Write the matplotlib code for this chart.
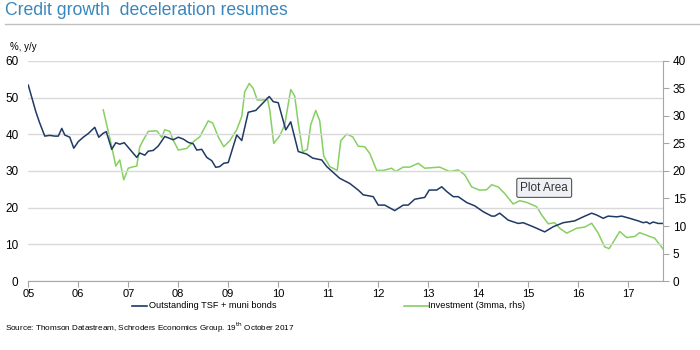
"""Credit growth deceleration chart (TSF + muni bonds vs investment)."""

import matplotlib

matplotlib.use("Agg")
import matplotlib.pyplot as plt  # noqa: E402

plt.rcParams["font.family"] = ["Liberation Sans Narrow", "Liberation Sans", "DejaVu Sans"]

# Outstanding TSF + muni bonds, % y/y (left axis), decimal year
tsf_t = [2005.0, 2005.15, 2005.22, 2005.33, 2005.43, 2005.53, 2005.6, 2005.67, 2005.73,
         2005.83, 2005.91, 2006.0, 2006.1, 2006.2, 2006.33, 2006.41, 2006.5, 2006.56,
         2006.67, 2006.75, 2006.83, 2006.92, 2007.17, 2007.23, 2007.33, 2007.4, 2007.5,
         2007.6, 2007.73, 2007.9, 2008.0, 2008.1, 2008.2, 2008.3, 2008.37, 2008.47,
         2008.57, 2008.67, 2008.75, 2008.83, 2008.91, 2009.0, 2009.17, 2009.27, 2009.4,
         2009.55, 2009.82, 2009.9, 2010.0, 2010.15, 2010.25, 2010.4, 2010.57, 2010.69,
         2010.87, 2010.97, 2011.23, 2011.43, 2011.6, 2011.7, 2011.9, 2012.0, 2012.13,
         2012.33, 2012.5, 2012.6, 2012.73, 2012.93, 2013.02, 2013.17, 2013.27, 2013.37,
         2013.5, 2013.6, 2013.77, 2013.93, 2014.1, 2014.27, 2014.33, 2014.43, 2014.6,
         2014.8, 2014.9, 2015.1, 2015.33, 2015.5, 2015.7, 2015.93, 2016.1, 2016.27,
         2016.37, 2016.5, 2016.6, 2016.77, 2016.87, 2017.03, 2017.2, 2017.3, 2017.37,
         2017.43, 2017.5, 2017.6, 2017.68]
tsf_v = [53.4, 46.2, 43.4, 39.5, 39.7, 39.5, 39.5, 41.6, 39.8,
         39.2, 36.2, 38.0, 39.2, 40.2, 41.9, 39.2, 40.3, 40.7,
         35.9, 37.7, 37.3, 37.7, 33.7, 34.9, 34.3, 35.4, 35.6,
         36.8, 39.4, 38.5, 39.2, 38.7, 37.8, 37.4, 35.7, 35.9,
         33.7, 32.8, 31.0, 31.2, 32.1, 32.3, 39.8, 38.3, 46.0,
         46.5, 50.3, 48.9, 48.6, 41.2, 43.4, 35.3, 34.6, 33.5,
         33.0, 31.2, 28.0, 26.6, 24.8, 23.5, 23.0, 20.7, 20.7,
         19.2, 20.7, 20.7, 22.3, 22.8, 24.8, 24.8, 25.7, 24.4,
         23.0, 23.0, 21.4, 20.5, 18.9, 17.7, 17.7, 18.5, 16.6,
         15.7, 15.9, 14.8, 13.4, 14.8, 15.9, 16.4, 17.5, 18.5,
         18.0, 17.1, 17.7, 17.5, 17.7, 17.1, 16.4, 15.9, 16.1,
         15.6, 16.1, 15.7, 15.7]

# Investment, 3mma % y/y (right axis)
inv_t = [2006.5, 2006.67, 2006.75, 2006.83, 2006.91, 2007.0, 2007.07, 2007.17, 2007.23,
         2007.3, 2007.4, 2007.57, 2007.67, 2007.73, 2007.83, 2007.9, 2008.0, 2008.17,
         2008.3, 2008.43, 2008.6, 2008.69, 2008.8, 2008.91, 2009.03, 2009.17, 2009.27,
         2009.33, 2009.42, 2009.5, 2009.58, 2009.7, 2009.78, 2009.83, 2009.91, 2010.03,
         2010.13, 2010.25, 2010.33, 2010.4, 2010.49, 2010.58, 2010.65, 2010.75, 2010.83,
         2010.91, 2011.03, 2011.18, 2011.25, 2011.37, 2011.49, 2011.6, 2011.73, 2011.83,
         2011.97, 2012.1, 2012.27, 2012.35, 2012.5, 2012.63, 2012.8, 2012.93, 2013.23,
         2013.43, 2013.6, 2013.73, 2013.87, 2014.03, 2014.17, 2014.27, 2014.4, 2014.53,
         2014.7, 2014.83, 2014.97, 2015.17, 2015.27, 2015.4, 2015.53, 2015.63, 2015.77,
         2015.97, 2016.13, 2016.27, 2016.4, 2016.53, 2016.62, 2016.73, 2016.83, 2016.97,
         2017.13, 2017.23, 2017.43, 2017.53, 2017.7]
inv_v = [31.1, 24.4, 20.9, 22.0, 18.4, 20.5, 20.7, 20.9, 24.4,
         25.6, 27.2, 27.3, 26.1, 27.5, 27.2, 25.6, 23.8, 24.1,
         25.3, 26.2, 29.1, 28.7, 26.2, 24.4, 25.5, 27.5, 29.9,
         34.4, 35.9, 35.0, 32.9, 32.9, 33.3, 31.1, 25.0, 26.4,
         28.4, 34.8, 33.6, 28.7, 23.5, 23.9, 28.4, 31.0, 29.1,
         22.7, 20.8, 20.1, 25.5, 26.7, 26.2, 24.5, 24.4, 23.2,
         20.1, 20.1, 20.5, 19.9, 20.7, 20.7, 21.4, 20.5, 20.7,
         19.9, 20.2, 19.3, 17.1, 16.5, 16.6, 17.5, 17.1, 15.9,
         14.0, 14.6, 14.3, 13.5, 12.0, 10.4, 10.6, 9.6, 8.7,
         9.6, 9.8, 10.5, 8.7, 6.2, 5.9, 7.5, 9.0, 7.9,
         8.1, 8.8, 8.1, 7.8, 5.8]

years = list(range(2005, 2018))
year_labels = [f"{y % 100:02d}" for y in years]
left_ticks = [0, 10, 20, 30, 40, 50, 60]
right_ticks = [0, 5, 10, 15, 20, 25, 30, 35, 40]

BLUE = "#1f3a64"
GREEN = "#86d062"
GREY = "#a6a6a6"

fig = plt.figure(figsize=(7, 3.5), dpi=100)
ax = fig.add_axes([0.0404, 0.197, 0.907, 0.629])
ax2 = ax.twinx()

ax.plot(tsf_t, tsf_v, color=BLUE, lw=1.1, zorder=3)
ax2.plot(inv_t, inv_v, color=GREEN, lw=1.1)

ax.set_xlim(2005, 2017.7)
ax.set_ylim(0, 60)
ax2.set_ylim(0, 40)
ax.set_xticks(years)
ax.set_xticklabels(year_labels)
ax.set_yticks(left_ticks)
ax2.set_yticks(right_ticks)

ax.grid(axis="y", color="#d9d9d9", lw=1)
ax.set_axisbelow(True)
ax.set_zorder(ax2.get_zorder() + 1)
ax.patch.set_visible(False)

for a in (ax, ax2):
    for s in a.spines.values():
        s.set_visible(False)
ax.spines["bottom"].set_visible(True)
ax.spines["bottom"].set_color(GREY)
ax2.spines["right"].set_visible(True)
ax2.spines["right"].set_color(GREY)

ax.tick_params(axis="x", length=4, color=GREY, labelsize=8, pad=1.5)
ax.tick_params(axis="y", length=0, labelsize=8.5, pad=7)
ax2.tick_params(axis="y", length=4, color=GREY, labelsize=8.5, pad=3)

fig.text(0.007, 0.971, "Credit growth  deceleration resumes", color="#3a87bd",
         fontsize=12.7, va="center", ha="left")
fig.add_artist(plt.Line2D([0.007, 1.0], [0.931, 0.931], color="#bfbfbf", lw=1,
                          transform=fig.transFigure))
fig.text(0.014, 0.866, "%, y/y", fontsize=7, va="center")

ax.text(2015.32, 25.4, "Plot Area", fontsize=8.5, color="#333333", ha="center", va="center",
        bbox=dict(boxstyle="round,pad=0.3,rounding_size=0.15", fc="#eef0f5",
                  ec="#555555", lw=0.8), zorder=5)

fig.add_artist(plt.Line2D([0.189, 0.21], [0.126, 0.126], color=BLUE, lw=1.2,
                          transform=fig.transFigure))
fig.text(0.213, 0.126, "Outstanding TSF + muni bonds", fontsize=6.6, va="center")
fig.add_artist(plt.Line2D([0.577, 0.612], [0.126, 0.126], color=GREEN, lw=1.2,
                          transform=fig.transFigure))
fig.text(0.612, 0.126, "Investment (3mma, rhs)", fontsize=6.6, va="center")

fig.text(0.007, 0.064, r"Source: Thomson Datastream, Schroders Economics Group. 19$^{\rm th}$ October 2017",
         fontsize=5.9, va="center")

fig.savefig("out.png", dpi=100)
